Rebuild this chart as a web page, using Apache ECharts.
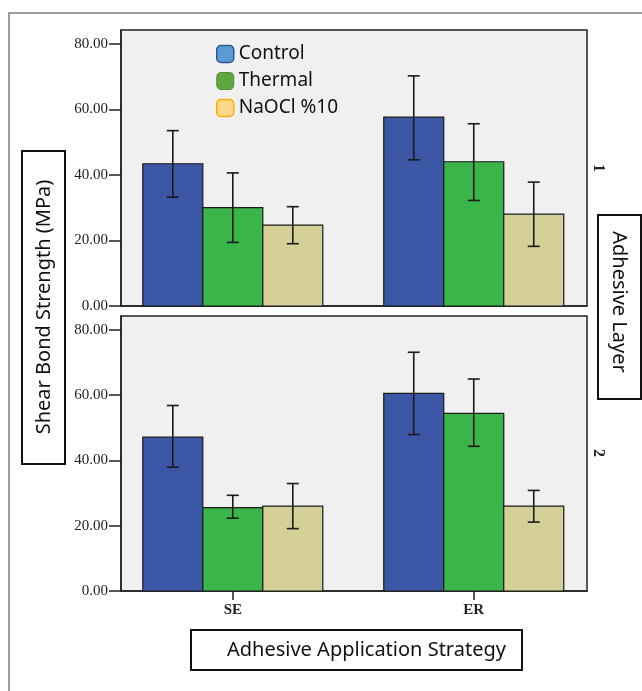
<!DOCTYPE html>
<html>
<head>
<meta charset="utf-8">
<script src="https://cdn.jsdelivr.net/npm/echarts@6/dist/echarts.min.js"></script>
<style>
  html, body { margin: 0; padding: 0; background: #fff; }
  #chart { width: 642px; height: 691px; }
</style>
</head>
<body>
<div id="chart"></div>
<script>
// categories and groups
const strategies = ['SE', 'ER'];
const groups = ['Control', 'Thermal', 'NaOCl %10'];
const yTicks = [0, 20, 40, 60, 80];

// adhesive layer 1 (top panel): means and error bar ends, [SE, ER]
const l1Control = [43.4, 57.6];
const l1ControlLo = [33.2, 44.6];
const l1ControlHi = [53.5, 70.2];
const l1Thermal = [30.0, 44.0];
const l1ThermalLo = [19.4, 32.2];
const l1ThermalHi = [40.6, 55.6];
const l1Naocl = [24.7, 28.0];
const l1NaoclLo = [19.0, 18.2];
const l1NaoclHi = [30.3, 37.8];

// adhesive layer 2 (bottom panel)
const l2Control = [47.1, 60.5];
const l2ControlLo = [37.9, 47.9];
const l2ControlHi = [56.8, 73.1];
const l2Thermal = [25.5, 54.4];
const l2ThermalLo = [22.3, 44.3];
const l2ThermalHi = [29.3, 64.9];
const l2Naocl = [26.0, 26.0];
const l2NaoclLo = [19.1, 21.1];
const l2NaoclHi = [32.9, 30.8];

const barColors = ['#3C56A6', '#3AB54A', '#D5CF98'];
const BW = 0.249;               // bar width in x units
const offsets = [-BW, 0, BW];   // bar position inside a group

function rows(vals, lo, hi) {
  return vals.map((v, i) => [i, v, lo[i], hi[i]]);
}

function renderBar(gi) {
  return function (params, api) {
    const x = api.value(0) + offsets[gi];
    const tl = api.coord([x - BW / 2, api.value(1)]);
    const br = api.coord([x + BW / 2, 0]);
    const lo = api.coord([x, api.value(2)]);
    const hi = api.coord([x, api.value(3)]);
    const cap = 6;
    const ln = { stroke: '#1a1a1a', lineWidth: 1.6 };
    return {
      type: 'group',
      children: [
        { type: 'rect', shape: { x: tl[0], y: tl[1], width: br[0] - tl[0], height: br[1] - tl[1] },
          style: { fill: barColors[gi], stroke: '#1a1a1a', lineWidth: 1.2 } },
        { type: 'line', shape: { x1: lo[0], y1: lo[1], x2: hi[0], y2: hi[1] }, style: ln },
        { type: 'line', shape: { x1: hi[0] - cap, y1: hi[1], x2: hi[0] + cap, y2: hi[1] }, style: ln },
        { type: 'line', shape: { x1: lo[0] - cap, y1: lo[1], x2: lo[0] + cap, y2: lo[1] }, style: ln }
      ]
    };
  };
}

const panelData = [
  [rows(l1Control, l1ControlLo, l1ControlHi), rows(l1Thermal, l1ThermalLo, l1ThermalHi), rows(l1Naocl, l1NaoclLo, l1NaoclHi)],
  [rows(l2Control, l2ControlLo, l2ControlHi), rows(l2Thermal, l2ThermalLo, l2ThermalHi), rows(l2Naocl, l2NaoclLo, l2NaoclHi)]
];

const series = [];
panelData.forEach((panel, p) => {
  panel.forEach((data, gi) => {
    series.push({
      type: 'custom',
      name: groups[gi],
      xAxisIndex: p,
      yAxisIndex: p,
      itemStyle: { color: barColors[gi] },
      renderItem: renderBar(gi),
      data: data
    });
  });
});

const grids = [
  { left: 121, top: 30, width: 466, height: 276 },
  { left: 121, top: 316, width: 466, height: 275 }
];

const tickFont = { fontFamily: 'Liberation Serif', fontSize: 15, color: '#222' };

const xAxes = grids.map((g, i) => ({
  type: 'value',
  gridIndex: i,
  min: -0.464,
  max: 1.47,
  splitLine: { show: false },
  axisLine: { show: true, onZero: false, lineStyle: { color: '#222', width: 1.5 } },
  axisTick: { show: i === 1, customValues: [0, 1], length: 9, lineStyle: { color: '#222', width: 1.5 } },
  axisLabel: {
    show: i === 1, customValues: [0, 1], margin: 12,
    formatter: v => strategies[v], ...tickFont, fontWeight: 'bold'
  }
}));

const yAxes = grids.map((g, i) => ({
  type: 'value',
  gridIndex: i,
  min: 0,
  max: 84.2,
  splitLine: { show: false },
  axisLine: { show: true, onZero: false, lineStyle: { color: '#222', width: 1.5 } },
  axisTick: { show: true, customValues: yTicks, length: 12, lineStyle: { color: '#222', width: 1.5 } },
  axisLabel: { customValues: yTicks, margin: 13, formatter: v => v.toFixed(2), ...tickFont }
}));

const sans = 'Noto Sans';
const chart = echarts.init(document.getElementById('chart'));
chart.setOption({
  animation: false,
  backgroundColor: '#fff',
  grid: grids.map(g => Object.assign({ show: true, backgroundColor: '#F0F0F0', borderColor: '#222', borderWidth: 1.5 }, g)),
  xAxis: xAxes,
  yAxis: yAxes,
  legend: {
    orient: 'vertical',
    left: 216,
    top: 44,
    padding: 0,
    itemWidth: 17,
    itemHeight: 17,
    itemGap: 7,
    icon: 'roundRect',
    textStyle: { fontFamily: sans, fontSize: 19, color: '#111', lineHeight: 20 },
    data: [
      { name: 'Control', itemStyle: { color: '#5B9BD5', borderColor: '#2F5597', borderWidth: 1.5 } },
      { name: 'Thermal', itemStyle: { color: '#5DA73F', borderColor: '#4E8F30', borderWidth: 1 } },
      { name: 'NaOCl %10', itemStyle: { color: '#FFD88A', borderColor: '#F5B400', borderWidth: 1.5 } }
    ]
  },
  graphic: [
    // outer frame
    { type: 'polyline', silent: true, shape: { points: [[9, 691], [9, 13], [642, 13]] },
      style: { stroke: '#7f7f7f', lineWidth: 1.5, fill: null } },
    // y title box
    { type: 'rect', shape: { x: 22, y: 151, width: 43, height: 313 },
      style: { fill: '#fff', stroke: '#111', lineWidth: 2 } },
    { type: 'text', x: 44, y: 307, rotation: Math.PI / 2,
      style: { text: 'Shear Bond Strength (MPa)', font: '20px "Noto Sans"', fill: '#111', align: 'center', verticalAlign: 'middle' } },
    // right panel label box
    { type: 'rect', shape: { x: 598, y: 215, width: 43, height: 184 },
      style: { fill: '#fff', stroke: '#111', lineWidth: 2 } },
    { type: 'text', x: 619, y: 302, rotation: -Math.PI / 2,
      style: { text: 'Adhesive Layer', font: '20px "Noto Sans"', fill: '#111', align: 'center', verticalAlign: 'middle' } },
    // panel numbers
    { type: 'text', x: 598, y: 168, rotation: -Math.PI / 2,
      style: { text: '1', font: 'bold 16px "Liberation Serif"', fill: '#222', align: 'center', verticalAlign: 'middle' } },
    { type: 'text', x: 598, y: 453, rotation: -Math.PI / 2,
      style: { text: '2', font: 'bold 16px "Liberation Serif"', fill: '#222', align: 'center', verticalAlign: 'middle' } },
    // x title box
    { type: 'rect', shape: { x: 191, y: 630, width: 331, height: 40 },
      style: { fill: '#fff', stroke: '#111', lineWidth: 2 } },
    { type: 'text', x: 227, y: 650,
      style: { text: 'Adhesive Application Strategy', font: '20px "Noto Sans"', fill: '#111', align: 'left', verticalAlign: 'middle' } }
  ],
  series: series
});
</script>
</body>
</html>
